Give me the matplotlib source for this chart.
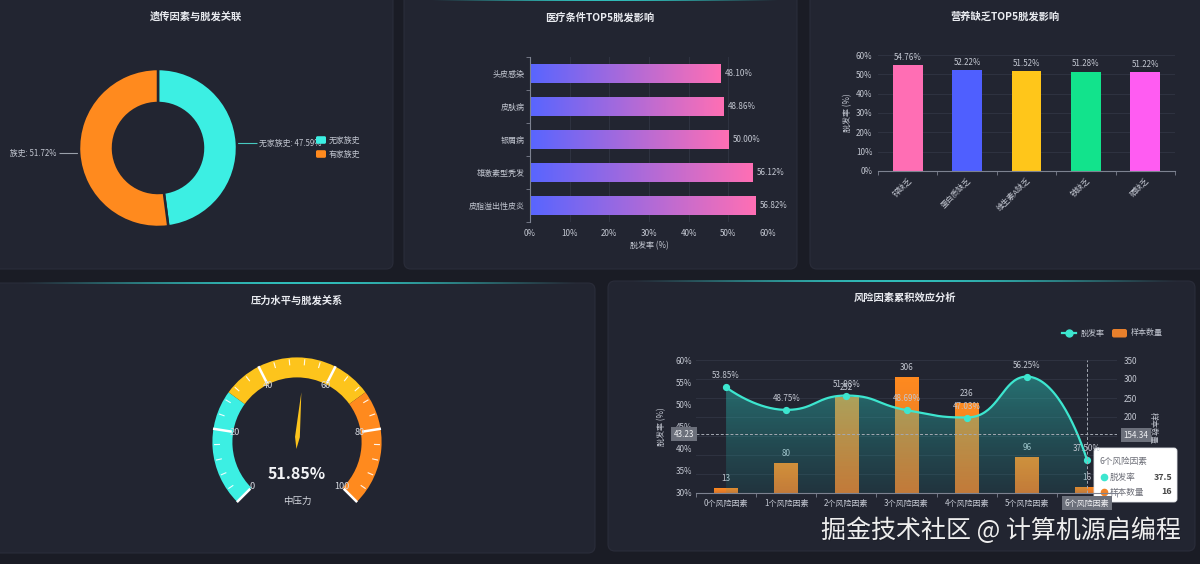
import numpy as np
import matplotlib
matplotlib.use('Agg')
import matplotlib.pyplot as plt
from matplotlib.patches import FancyBboxPatch, Wedge, Polygon
from matplotlib.transforms import Bbox, blended_transform_factory
from matplotlib.colors import to_rgb

plt.rcParams['font.family'] = ['Noto Sans CJK SC', 'DejaVu Sans']
plt.rcParams['axes.unicode_minus'] = False

# ---------------- data ----------------
family_labels = ['无家族史', '有家族史']
family_rates = [47.59, 51.72]

medical_labels = ['头皮感染', '皮肤病', '银屑病', '雄激素型秃发', '皮脂溢出性皮炎']
medical_rates = [48.10, 48.86, 50.00, 56.12, 56.82]
medical_ticks = [0, 10, 20, 30, 40, 50, 60]

nutrition_labels = ['锌缺乏', '蛋白质缺乏', '维生素A缺乏', '铁缺乏', '硒缺乏']
nutrition_rates = [54.76, 52.22, 51.52, 51.28, 51.22]
nutrition_ticks = [0, 10, 20, 30, 40, 50, 60]

stress_value = 51.85
stress_level = '中压力'
gauge_ticks = [0, 20, 40, 60, 80, 100]
gauge_bands = [30, 70, 100]

risk_labels = ['0个风险因素', '1个风险因素', '2个风险因素', '3个风险因素',
               '4个风险因素', '5个风险因素', '6个风险因素']
risk_rates = [53.85, 48.75, 51.98, 48.69, 47.03, 56.25, 37.50]
risk_counts = [13, 80, 252, 306, 236, 96, 16]
rate_ticks = [30, 35, 40, 45, 50, 55, 60]
count_ticks = [0, 50, 100, 150, 200, 250, 300, 350]
pointer_rate = 43.23
pointer_count = 154.34
hover_index = 6

# ---------------- style ----------------
W, H = 1200, 564
BG = '#1a1c25'
PANEL = '#222531'
PANEL_EDGE = '#2a2d3a'
TITLE = '#e9ebf0'
TXT = '#c3c7d1'
GRID = '#2e3240'
AXIS = '#7d8290'
CYAN = '#3cefe3'
ORANGE = '#ff8a1e'
YELLOW = '#fdc41c'
GRAD_L = '#5865ff'
GRAD_R = '#ff6fb4'
NUTRI_COLORS = ['#ff6eb4', '#4f5fff', '#ffc61a', '#12e38c', '#ff5cf2']
LINE_TEAL = '#3de6cf'
FS_TITLE = 7.4
FS_TICK = 5.8

fig = plt.figure(figsize=(12, 5.64), dpi=100, facecolor=BG)

canvas = fig.add_axes([0, 0, 1, 1])
canvas.set_xlim(0, W)
canvas.set_ylim(H, 0)
canvas.axis('off')


def pax(x0, y0, x1, y1):
    return fig.add_axes([x0 / W, 1 - y1 / H, (x1 - x0) / W, (y1 - y0) / H])


def panel(x0, y0, x1, y1):
    canvas.add_patch(FancyBboxPatch((x0, y0), x1 - x0, y1 - y0,
                                    boxstyle='round,pad=0,rounding_size=7',
                                    fc=PANEL, ec=PANEL_EDGE, lw=0.8, zorder=1))


def glow(x0, x1, y):
    n = 300
    t = np.linspace(0, 1, n)
    arr = np.zeros((1, n, 4))
    arr[..., :3] = to_rgb('#33d8d2')
    arr[0, :, 3] = np.sin(np.pi * t) ** 1.2 * 0.85
    canvas.imshow(arr, extent=[x0, x1, y + 1.0, y - 0.8], aspect='auto', zorder=3,
                  interpolation='bilinear')


def grad_image(ax, patch, c0, c1, extent, horizontal=True, zorder=2, a0=1.0, a1=1.0):
    n = 256
    t = np.linspace(0, 1, n)
    c0 = np.array(to_rgb(c0))
    c1 = np.array(to_rgb(c1))
    cols = (1 - t)[:, None] * c0 + t[:, None] * c1
    alph = (1 - t) * a0 + t * a1
    if horizontal:
        arr = np.zeros((1, n, 4))
        arr[0, :, :3] = cols
        arr[0, :, 3] = alph
    else:
        arr = np.zeros((n, 1, 4))
        arr[:, 0, :3] = cols
        arr[:, 0, 3] = alph
    im = ax.imshow(arr, extent=extent, origin='lower', aspect='auto',
                   zorder=zorder, interpolation='bilinear')
    im.set_clip_path(patch)
    return im


# panels
panel(-8, -8, 393, 269)
panel(404, -8, 797, 269)
panel(810, -8, 1208, 269)
panel(-8, 283, 595, 553)
panel(608, 281, 1195, 551)
glow(430, 780, 0.5)
glow(20, 580, 283.5)
glow(630, 1180, 281.5)

# titles
canvas.text(196, 17, '遗传因素与脱发关联', ha='center', va='center', color=TITLE,
            fontsize=FS_TITLE, fontweight='bold', zorder=5)
canvas.text(600, 17, '医疗条件TOP5脱发影响', ha='center', va='center', color=TITLE,
            fontsize=FS_TITLE, fontweight='bold', zorder=5)
canvas.text(1005, 17, '营养缺乏TOP5脱发影响', ha='center', va='center', color=TITLE,
            fontsize=FS_TITLE, fontweight='bold', zorder=5)
canvas.text(297, 301, '压力水平与脱发关系', ha='center', va='center', color=TITLE,
            fontsize=FS_TITLE, fontweight='bold', zorder=5)
canvas.text(905, 298, '风险因素累积效应分析', ha='center', va='center', color=TITLE,
            fontsize=FS_TITLE, fontweight='bold', zorder=5)

# ---------------- panel 1: donut ----------------
cx1, cy1, R1, r1 = 158, 148, 79, 45
ax1 = pax(cx1 - 100, cy1 - 100, cx1 + 100, cy1 + 100)
ax1.pie(family_rates, colors=[CYAN, ORANGE], startangle=90, counterclock=False,
        radius=1.0, wedgeprops=dict(width=(R1 - r1) / R1, edgecolor=PANEL, linewidth=1.8))
ax1.set_xlim(-100 / R1, 100 / R1)
ax1.set_ylim(-100 / R1, 100 / R1)
ax1.set_aspect('equal')
ax1.axis('off')

renderer = fig.canvas.get_renderer()
total = sum(family_rates)
start = 90.0
for i, (lab, val) in enumerate(zip(family_labels, family_rates)):
    span = 360.0 * val / total
    mid = np.deg2rad(start - span / 2)
    start -= span
    ex = cx1 + R1 * np.cos(mid)
    ey = cy1 - R1 * np.sin(mid)
    side = 1 if np.cos(mid) >= 0 else -1
    x_end = ex + side * 20
    canvas.plot([ex, ex + side * 4, x_end], [ey, ey, ey],
                color='#9aa0aa' if side < 0 else '#47c9c0',
                lw=0.8, zorder=4, solid_capstyle='butt')
    label = f'{lab}: {val:.2f}%'
    tx = x_end + side * 2.5
    t = canvas.text(tx, ey, label, ha='left' if side > 0 else 'right',
                    va='center', color=TXT, fontsize=5.7, zorder=4)
    if side < 0:
        # the chart container cuts the left label off at the panel's inner edge,
        # right between the 2nd and 3rd characters
        probe = canvas.text(tx, ey, label[2:], ha='right', va='center', fontsize=5.7)
        bb = probe.get_window_extent(renderer)
        probe.remove()
        left_clip = bb.x0 - 0.3
        t.set_clip_box(Bbox.from_extents(left_clip, H - 269, 393, H))
        t.set_clip_on(True)

for i, (lab, col) in enumerate(zip(family_labels, [CYAN, ORANGE])):
    y = 140 + i * 14
    canvas.add_patch(FancyBboxPatch((316, y - 3.8), 10, 7.6, boxstyle='round,pad=0,rounding_size=1.5',
                                    fc=col, ec='none', zorder=6))
    canvas.text(329, y, lab, ha='left', va='center', color=TXT, fontsize=5.7, zorder=6)

# ---------------- panel 2: horizontal gradient bars ----------------
ax2 = pax(530, 57, 768, 222)
ax2.set_facecolor('none')
ypos = np.arange(len(medical_labels))
bars2 = ax2.barh(ypos, medical_rates, height=0.6, color='none', edgecolor='none', zorder=2)
for b in bars2:
    x0, y0, w, h = b.get_x(), b.get_y(), b.get_width(), b.get_height()
    grad_image(ax2, b, GRAD_L, GRAD_R, [x0, x0 + w, y0, y0 + h], horizontal=True, zorder=2)
for yv, v in zip(ypos, medical_rates):
    ax2.annotate(f'{v:.2f}%', xy=(v, yv), xytext=(3, 0), textcoords='offset points',
                 ha='left', va='center', color=TXT, fontsize=FS_TICK)
ax2.set_xlim(0, 60)
ax2.set_ylim(len(medical_labels) - 0.5, -0.5)
ax2.set_xticks(medical_ticks)
ax2.set_xticklabels([f'{t}%' for t in medical_ticks])
ax2.set_yticks(ypos)
ax2.set_yticklabels(medical_labels)
ax2.set_yticks(np.arange(-0.5, len(medical_labels)), minor=True)
ax2.tick_params(axis='y', which='major', length=0, pad=4, labelsize=FS_TICK, labelcolor=TXT)
ax2.tick_params(axis='y', which='minor', length=3, width=0.6, color=AXIS, direction='out')
ax2.tick_params(axis='x', which='major', length=0, pad=5, labelsize=FS_TICK, labelcolor=TXT)
ax2.grid(axis='x', color=GRID, lw=0.8)
ax2.set_axisbelow(True)
for s in ['top', 'right', 'bottom']:
    ax2.spines[s].set_visible(False)
ax2.spines['left'].set_color(AXIS)
ax2.spines['left'].set_linewidth(0.8)
canvas.text(649, 246, '脱发率 (%)', ha='center', va='center', color=TXT, fontsize=FS_TICK, zorder=5)

# ---------------- panel 3: vertical colored bars ----------------
ax3 = pax(878, 55, 1175, 171)
ax3.set_facecolor('none')
xpos3 = np.arange(len(nutrition_labels))
ax3.bar(xpos3, nutrition_rates, width=0.5, color=NUTRI_COLORS, zorder=2)
for xv, v in zip(xpos3, nutrition_rates):
    ax3.annotate(f'{v:.2f}%', xy=(xv, v), xytext=(0, 2.5), textcoords='offset points',
                 ha='center', va='bottom', color=TXT, fontsize=FS_TICK)
ax3.set_xlim(-0.5, len(nutrition_labels) - 0.5)
ax3.set_ylim(0, 60)
ax3.set_yticks(nutrition_ticks)
ax3.set_yticklabels([f'{t}%' for t in nutrition_ticks])
ax3.set_xticks(xpos3)
ax3.set_xticklabels(nutrition_labels, rotation=45, ha='right', rotation_mode='anchor')
ax3.set_xticks(np.arange(-0.5, len(nutrition_labels)), minor=True)
ax3.tick_params(axis='x', which='major', length=0, pad=4, labelsize=5.6, labelcolor=TXT)
ax3.tick_params(axis='x', which='minor', length=3, width=0.6, color=AXIS, direction='out')
ax3.tick_params(axis='y', length=0, pad=4, labelsize=FS_TICK, labelcolor=TXT)
ax3.grid(axis='y', color=GRID, lw=0.8)
ax3.set_axisbelow(True)
for s in ['top', 'right', 'left']:
    ax3.spines[s].set_visible(False)
ax3.spines['bottom'].set_color(AXIS)
ax3.spines['bottom'].set_linewidth(0.8)
canvas.text(848, 113, '脱发率 (%)', ha='center', va='center', rotation=90, color=TXT,
            fontsize=FS_TICK, zorder=5)

# ---------------- panel 4: gauge ----------------
gcx, gcy = 297, 442
gax = pax(gcx - 100, gcy - 100, gcx + 100, gcy + 100)
gax.set_xlim(-100, 100)
gax.set_ylim(-100, 100)
gax.set_aspect('equal')
gax.axis('off')
RO, RW = 84.6, 20.0


def ang(v):
    return 225.0 - v / 100.0 * 270.0


band_cols = [CYAN, YELLOW, ORANGE]
prev = 0
for stop, col in zip(gauge_bands, band_cols):
    gax.add_patch(Wedge((0, 0), RO, ang(stop), ang(prev), width=RW, fc=col, ec='none', zorder=2))
    prev = stop
minor_vals = np.arange(0, 100.01, 4)
for v in minor_vals:
    if v in gauge_ticks:
        continue
    a = np.deg2rad(ang(v))
    gax.plot([77 * np.cos(a), 83 * np.cos(a)], [77 * np.sin(a), 83 * np.sin(a)],
             color='white', lw=0.8, alpha=0.9, zorder=3, solid_capstyle='butt')
for v in gauge_ticks:
    a = np.deg2rad(ang(v))
    gax.plot([66 * np.cos(a), 85 * np.cos(a)], [66 * np.sin(a), 85 * np.sin(a)],
             color='white', lw=1.8, zorder=3, solid_capstyle='butt')
    gax.text(63 * np.cos(a), 63 * np.sin(a), f'{v}', ha='center', va='center',
             color='#d6d9e0', fontsize=6.6, zorder=4)
a = np.deg2rad(ang(stress_value))
u = np.array([np.cos(a), np.sin(a)])
nrm = np.array([-np.sin(a), np.cos(a)])
needle = [50 * u, 5 * u + 2.4 * nrm, -7 * u, 5 * u - 2.4 * nrm]
gax.add_patch(Polygon(needle, closed=True, fc=YELLOW, ec='none', zorder=5))
gax.text(0, -32, f'{stress_value:.2f}%', ha='center', va='center', color='#f2f3f6',
         fontsize=11.5, fontweight='bold', zorder=5)
gax.text(0, -59, stress_level, ha='center', va='center', color='#d6d9e0', fontsize=6.8, zorder=5)

# ---------------- panel 5: combo ----------------
ax5 = pax(696, 360, 1117, 493)
ax5b = ax5.twinx()
ax5.set_zorder(ax5b.get_zorder() + 1)
ax5.patch.set_visible(False)
ax5b.set_facecolor('none')
xpos5 = np.arange(len(risk_labels))

bars5 = ax5b.bar(xpos5, risk_counts, width=0.39, color='none', edgecolor='none', zorder=2)
for b in bars5:
    x0, y0, w, h = b.get_x(), b.get_y(), b.get_width(), b.get_height()
    grad_image(ax5b, b, '#d9752c', '#ff8a1f', [x0, x0 + w, y0, y0 + h], horizontal=False, zorder=2)
for xv, v in zip(xpos5, risk_counts):
    ax5b.annotate(f'{v}', xy=(xv, v), xytext=(0, 3.5), textcoords='offset points',
                  ha='center', va='bottom', color=TXT, fontsize=FS_TICK, zorder=6)
ax5b.set_ylim(0, 350)
ax5b.set_xlim(-0.5, len(risk_labels) - 0.5)
ax5b.set_yticks(count_ticks)
ax5b.tick_params(axis='y', length=0, pad=5, labelsize=FS_TICK, labelcolor=TXT)
for s in ax5b.spines.values():
    s.set_visible(False)

# smooth curve (echarts-like bezier smoothing in pixel space)
sx, sy = 421.0 / 7, 133.0 / 30.0
P = np.column_stack([xpos5 * sx, np.array(risk_rates) * sy])


def smooth_path(P, s=0.5, nseg=40):
    n = len(P)
    before = P.copy()
    after = P.copy()
    for i in range(1, n - 1):
        x, y = P[i]
        px_, py_ = P[i - 1]
        nx_, ny_ = P[i + 1]
        vx, vy = nx_ - px_, ny_ - py_
        l0 = np.hypot(x - px_, y - py_)
        l1 = np.hypot(nx_ - x, ny_ - y)
        r = l1 / (l0 + l1)
        ncx, ncy = x + vx * s * r, y + vy * s * r
        ncx = max(min(ncx, max(nx_, x)), min(nx_, x))
        ncy = max(min(ncy, max(ny_, y)), min(ny_, y))
        vx, vy = ncx - x, ncy - y
        bcx, bcy = x - vx * l0 / l1, y - vy * l0 / l1
        bcx = max(min(bcx, max(px_, x)), min(px_, x))
        bcy = max(min(bcy, max(py_, y)), min(py_, y))
        vx, vy = x - bcx, y - bcy
        ncx, ncy = x + vx * l1 / l0, y + vy * l1 / l0
        before[i] = (bcx, bcy)
        after[i] = (ncx, ncy)
    pts = [P[0]]
    t = np.linspace(0, 1, nseg)[1:, None]
    for i in range(n - 1):
        p0, c0, c1, p1 = P[i], after[i], before[i + 1], P[i + 1]
        seg = ((1 - t) ** 3) * p0 + 3 * ((1 - t) ** 2) * t * c0 + 3 * (1 - t) * t ** 2 * c1 + t ** 3 * p1
        pts.extend(seg)
    return np.array(pts)


curve = smooth_path(P)
cxs, cys = curve[:, 0] / sx, curve[:, 1] / sy
poly_pts = np.vstack([np.column_stack([cxs, cys]), [[cxs[-1], 30], [cxs[0], 30]]])
area = Polygon(poly_pts, closed=True, fc='none', ec='none')
ax5.add_patch(area)
grad_image(ax5, area, '#1fa6a3', '#2fd3c6', [cxs[0], cxs[-1], 30, 60], horizontal=False,
           zorder=2, a0=0.12, a1=0.5)
ax5.plot(cxs, cys, color=LINE_TEAL, lw=1.6, zorder=4)
ax5.plot(xpos5, risk_rates, 'o', ms=4.2, color=LINE_TEAL, mec=LINE_TEAL, zorder=5)
for xv, v in zip(xpos5, risk_rates):
    ax5.annotate(f'{v:.2f}%', xy=(xv, v), xytext=(0, 5), textcoords='offset points',
                 ha='center', va='bottom', color=TXT, fontsize=FS_TICK, zorder=6)
ax5.set_xlim(-0.5, len(risk_labels) - 0.5)
ax5.set_ylim(30, 60)
ax5.set_yticks(rate_ticks)
ax5.set_yticklabels([f'{t}%' for t in rate_ticks])
ax5.set_xticks(xpos5)
ax5.set_xticklabels(risk_labels)
ax5.set_xticks(np.arange(-0.5, len(risk_labels)), minor=True)
ax5.tick_params(axis='x', which='major', length=0, pad=4, labelsize=FS_TICK, labelcolor=TXT)
ax5.tick_params(axis='x', which='minor', length=3, width=0.6, color=AXIS, direction='out')
ax5.tick_params(axis='y', length=0, pad=3, labelsize=FS_TICK, labelcolor=TXT)
ax5b.grid(axis='y', color=GRID, lw=0.8, zorder=0)
ax5b.set_axisbelow(True)
for s in ['top', 'right', 'left']:
    ax5.spines[s].set_visible(False)
ax5.spines['bottom'].set_color(AXIS)
ax5.spines['bottom'].set_linewidth(0.8)

# axis pointer (hover state)
ax5.axhline(pointer_rate, color='#a4a9b3', lw=0.7, ls=(0, (3, 2)), zorder=6)
ax5.axvline(hover_index, color='#a4a9b3', lw=0.7, ls=(0, (3, 2)), zorder=6)
tl = blended_transform_factory(ax5.transAxes, ax5.transData)
ax5.text(-0.004, pointer_rate, f'{pointer_rate:.2f}', transform=tl, ha='right', va='center',
         color='#f0f1f4', fontsize=FS_TICK, zorder=8, clip_on=False,
         bbox=dict(boxstyle='square,pad=0.3', fc='#6c707b', ec='none'))
ax5.get_xticklabels()[hover_index].set_bbox(dict(boxstyle='square,pad=0.3', fc='#6c707b', ec='none'))
ax5.get_xticklabels()[hover_index].set_color('#f0f1f4')

canvas.text(662, 427, '脱发率 (%)', ha='center', va='center', rotation=90, color=TXT,
            fontsize=FS_TICK, zorder=5)

# ---------------- overlay (legend, tooltip, watermark) ----------------
ov = fig.add_axes([0, 0, 1, 1])
ov.set_xlim(0, W)
ov.set_ylim(H, 0)
ov.axis('off')
ov.patch.set_visible(False)

ov.text(1153, 428, '样本数量', ha='center', va='center', rotation=-90, color=TXT, fontsize=FS_TICK)
ov.text(1136, 435, f'{pointer_count:.2f}', ha='center', va='center', color='#f0f1f4',
        fontsize=FS_TICK, bbox=dict(boxstyle='square,pad=0.3', fc='#6c707b', ec='none'))

# legend panel 5
ov.plot([1062, 1076], [333, 333], color=LINE_TEAL, lw=1.6)
ov.plot([1069], [333], 'o', ms=5, color=LINE_TEAL)
ov.text(1081, 333, '脱发率', ha='left', va='center', color=TXT, fontsize=FS_TICK)
ov.add_patch(FancyBboxPatch((1112, 329), 15, 8.5, boxstyle='round,pad=0,rounding_size=2',
                            fc='#e8802c', ec='none'))
ov.text(1131, 333, '样本数量', ha='left', va='center', color=TXT, fontsize=FS_TICK)

# tooltip
ov.add_patch(FancyBboxPatch((1094, 448), 83, 54, boxstyle='round,pad=0,rounding_size=3',
                            fc='white', ec='#e4e6ea', lw=0.6, zorder=10))
ov.text(1100, 461, risk_labels[hover_index], ha='left', va='center', color='#6e7079',
        fontsize=6.2, zorder=11)
ov.plot([1103.5], [477], 'o', ms=4.5, color=LINE_TEAL, zorder=11)
ov.text(1110, 477, '脱发率', ha='left', va='center', color='#6e7079', fontsize=6.2, zorder=11)
ov.text(1172, 477, f'{risk_rates[hover_index]:g}', ha='right', va='center', color='#464646',
        fontsize=6.4, fontweight='bold', zorder=11)
ov.plot([1103.5], [492], 'o', ms=4.5, color='#f0832a', zorder=11)
ov.text(1110, 492, '样本数量', ha='left', va='center', color='#6e7079', fontsize=6.2, zorder=11)
ov.text(1172, 492, f'{risk_counts[hover_index]}', ha='right', va='center', color='#464646',
        fontsize=6.4, fontweight='bold', zorder=11)

# watermark
ov.text(1002, 532, '掘金技术社区 @ 计算机源启编程', ha='center', va='center', color='#1a1c22',
        alpha=0.5, fontsize=18, zorder=11)
ov.text(1001, 531, '掘金技术社区 @ 计算机源启编程', ha='center', va='center', color='#eeeeee',
        fontsize=18, zorder=12)

canvas.set_xlim(0, W)
canvas.set_ylim(H, 0)

fig.savefig('out.png', dpi=100, facecolor=BG)
